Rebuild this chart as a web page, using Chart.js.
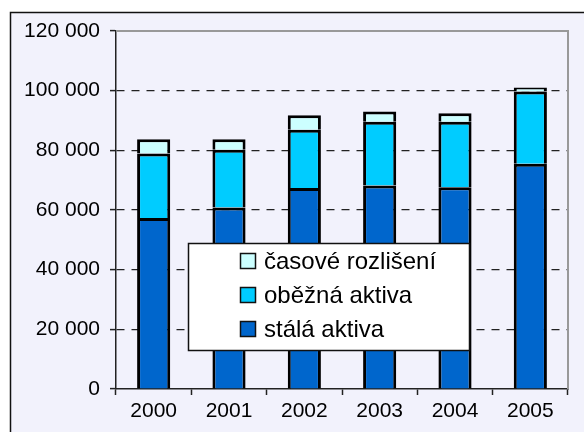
<!DOCTYPE html>
<html>
<head>
<meta charset="utf-8">
<script src="https://cdn.jsdelivr.net/npm/chart.js@4/dist/chart.umd.min.js"></script>
<style>
html,body{margin:0;padding:0;background:#fff;}
canvas{display:block;}
</style>
</head>
<body>
<canvas id="c" width="584" height="432"></canvas>
<script>
const years = ['2000', '2001', '2002', '2003', '2004', '2005'];
const stalaAktiva = [57300, 60800, 67400, 68200, 67600, 75500];
const obeznaAktiva = [21600, 19400, 19500, 21400, 22000, 24200];
const casoveRozliseni = [4800, 3500, 4850, 3400, 2800, 1400];
const seriesNames = ['stálá aktiva', 'oběžná aktiva', 'časové rozlišení'];
const seriesColors = ['#0066CC', '#00CCFF', '#CCFFFF'];
const yMin = 0, yMax = 120000, yStep = 20000;

const FONT = '"Liberation Sans", Arial, sans-serif';
const BG = '#F2F2FC';

const frame = {
  id: 'frame',
  beforeDraw(chart) {
    const ctx = chart.ctx;
    ctx.save();
    ctx.fillStyle = '#ffffff';
    ctx.fillRect(0, 0, chart.width, chart.height);
    ctx.fillStyle = BG;
    ctx.fillRect(10, 12, chart.width - 10, chart.height - 12);
    ctx.strokeStyle = '#111';
    ctx.lineWidth = 1.5;
    ctx.beginPath();
    ctx.moveTo(10.5, chart.height);
    ctx.lineTo(10.5, 12.5);
    ctx.lineTo(chart.width, 12.5);
    ctx.stroke();
    ctx.restore();
  },
  beforeDatasetsDraw(chart) {
    const a = chart.chartArea;
    const ctx = chart.ctx;
    ctx.save();
    ctx.strokeStyle = '#999';
    ctx.lineWidth = 2;
    ctx.beginPath();
    ctx.moveTo(a.left, a.top);
    ctx.lineTo(a.right, a.top);
    ctx.lineTo(a.right, a.bottom);
    ctx.stroke();
    ctx.restore();
  }
};

const boxLegend = {
  id: 'boxLegend',
  afterDatasetsDraw(chart) {
    const ctx = chart.ctx;
    ctx.save();
    ctx.fillStyle = '#ffffff';
    ctx.fillRect(188.5, 243.5, 281, 107);
    ctx.strokeStyle = '#111';
    ctx.lineWidth = 1.5;
    ctx.strokeRect(188.5, 243.5, 281, 107);
    const ds = chart.data.datasets;
    ctx.font = '24px ' + FONT;
    ctx.textBaseline = 'middle';
    ctx.textAlign = 'left';
    for (let r = 0; r < ds.length; r++) {
      const d = ds[ds.length - 1 - r];
      const cy = 261 + r * 34;
      ctx.fillStyle = d.backgroundColor;
      ctx.fillRect(240, cy - 8, 16, 16);
      ctx.lineWidth = 1.5;
      ctx.strokeStyle = '#111';
      ctx.strokeRect(240.5, cy - 7.5, 15, 15);
      ctx.fillStyle = '#000';
      ctx.fillText(d.label, 264, cy + 1);
    }
    ctx.restore();
  }
};

const fmt = v => String(v).replace(/\B(?=(\d{3})+(?!\d))/g, ' ');

new Chart(document.getElementById('c'), {
  type: 'bar',
  data: {
    labels: years,
    datasets: [
      { label: seriesNames[0], data: stalaAktiva, backgroundColor: seriesColors[0] },
      { label: seriesNames[1], data: obeznaAktiva, backgroundColor: seriesColors[1] },
      { label: seriesNames[2], data: casoveRozliseni, backgroundColor: seriesColors[2] }
    ]
  },
  options: {
    responsive: false,
    animation: false,
    devicePixelRatio: 1,
    layout: { padding: { top: 31, right: 16, left: 0, bottom: 0 } },
    datasets: {
      bar: {
        borderColor: '#000',
        borderWidth: 3,
        barPercentage: 0.44,
        categoryPercentage: 1
      }
    },
    plugins: {
      legend: { display: false },
      tooltip: { enabled: false },
      title: { display: false }
    },
    scales: {
      x: {
        stacked: true,
        afterFit(s) { s.height = 43; },
        grid: {
          drawOnChartArea: false,
          drawTicks: true,
          tickLength: 6,
          tickColor: '#222',
          tickWidth: 1.5,
          offset: true
        },
        border: { display: true, color: '#222', width: 1.5 },
        ticks: {
          color: '#000',
          font: { family: FONT, size: 21 },
          padding: 4,
          maxRotation: 0
        }
      },
      y: {
        stacked: true,
        min: yMin,
        max: yMax,
        afterFit(s) { s.width = 116; },
        grid: {
          color: c => (c.tick && (c.tick.value === yMin || c.tick.value === yMax)) ? 'rgba(0,0,0,0)' : '#222',
          lineWidth: 1.2,
          tickColor: '#222',
          tickWidth: 1.5,
          tickLength: 6,
          tickBorderDash: []
        },
        border: { display: true, color: '#222', width: 1.5, dash: [8, 7] },
        ticks: {
          stepSize: yStep,
          color: '#000',
          font: { family: FONT, size: 21 },
          padding: 10,
          callback: v => fmt(v)
        }
      }
    }
  },
  plugins: [frame, boxLegend]
});
</script>
</body>
</html>
